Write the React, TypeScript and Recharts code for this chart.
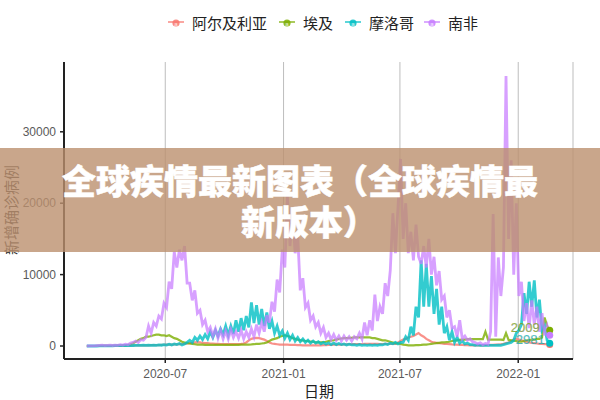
import { LineChart, Line, XAxis, YAxis, CartesianGrid } from "recharts";

const FONT_CJK = '"Noto Sans CJK SC", sans-serif';
const FONT_LATIN = '"Liberation Sans", Arial, sans-serif';

const seriesNames = ["阿尔及利亚", "埃及", "摩洛哥", "南非"];
const seriesColors = ["#F8766D", "#7CAE00", "#00BFC4", "#C77CFF"];

const xTicks = [0, 184, 365, 549];
const xTickLabels = ["2020-07", "2021-01", "2021-07", "2022-01"];
const yTicks = [0, 10000, 20000, 30000];

// one reading every 4 days, from 2020-03-01
const algeria = [
  0, 0, 0, 0, 5, 5, 10, 10, 20, 20,
  30, 30, 40, 40, 50, 50, 60, 60, 70, 70,
  80, 80, 90, 100, 100, 110, 120, 120, 130, 150,
  160, 180, 200, 200, 220, 240, 250, 280, 300, 350,
  400, 450, 500, 550, 500, 450, 400, 400, 350, 350,
  300, 300, 280, 280, 250, 250, 250, 250, 280, 280,
  300, 350, 500, 800, 1000, 1100, 1150, 1100, 1000, 900,
  700, 500, 350, 300, 250, 200, 200, 180, 180, 150,
  150, 150, 120, 120, 100, 100, 100, 100, 100, 100,
  100, 100, 120, 120, 150, 150, 180, 180, 200, 200,
  220, 220, 250, 250, 250, 280, 280, 280, 300, 300,
  300, 300, 300, 300, 280, 280, 300, 300, 280, 280,
  300, 500, 700, 900, 1000, 1200, 1300, 1400, 1600, 1800,
  1500, 1300, 1000, 800, 600, 500, 450, 400, 350, 300,
  280, 250, 220, 200, 180, 150, 150, 120, 120, 100,
  100, 100, 100, 100, 100, 120, 120, 150, 150, 200,
  200, 250, 300, 400, 500, 700, 900, 1000, 900, 800,
  700, 600, 500, 450, 400, 350, 300, 300, 250, 250,
  200,
];
const egypt = [
  0, 0, 0, 0, 0, 5, 10, 10, 20, 30,
  30, 40, 50, 60, 80, 100, 150, 250, 400, 600,
  800, 1000, 1100, 1300, 1300, 1400, 1500, 1600, 1600, 1500,
  1500, 1400, 1500, 1300, 1100, 1000, 800, 600, 500, 400,
  350, 300, 250, 200, 200, 180, 150, 150, 150, 150,
  150, 150, 150, 150, 150, 150, 150, 150, 150, 150,
  180, 180, 200, 200, 220, 250, 300, 300, 350, 400,
  500, 700, 900, 1000, 1100, 1300, 1400, 1500, 1400, 1300,
  1100, 1000, 900, 800, 800, 700, 700, 600, 600, 500,
  500, 500, 550, 600, 700, 750, 800, 900, 1000, 1050,
  1100, 1100, 1150, 1150, 1200, 1200, 1200, 1250, 1200, 1200,
  1200, 1100, 1100, 1000, 900, 800, 800, 700, 600, 500,
  400, 350, 300, 200, 150, 100, 100, 100, 120, 130,
  150, 180, 200, 250, 300, 350, 400, 450, 500, 500,
  550, 600, 700, 750, 800, 850, 900, 900, 950, 950,
  950, 950, 950, 950, 950, 2000, 900, 900, 900, 900,
  900, 900, 850, 1800, 850, 800, 700, 700, 600, 600,
  700, 800, 800, 900, 900, 1000, 1000, 1200, 4000, 2800,
  2200,
];
const morocco = [
  0, 0, 0, 0, 0, 5, 10, 10, 20, 30,
  30, 50, 60, 40, 60, 70, 80, 60, 70, 90,
  100, 80, 110, 90, 120, 100, 130, 90, 150, 110,
  200, 120, 250, 150, 300, 200, 350, 150, 300, 500,
  800, 500, 1200, 800, 1400, 900, 1600, 1000, 2000, 1200,
  2200, 1400, 2400, 1600, 2800, 1500, 2800, 1700, 3600, 2000,
  3900, 2200, 4200, 2600, 6100, 3200, 5700, 3000, 5200, 2800,
  4700, 2400, 3500, 1800, 2800, 1500, 2100, 1100, 1800, 900,
  1500, 700, 1200, 600, 1000, 500, 800, 400, 700, 400,
  600, 300, 500, 250, 450, 200, 400, 200, 350, 200,
  300, 150, 250, 150, 200, 100, 200, 100, 150, 100,
  150, 100, 150, 100, 200, 150, 300, 200, 400, 300,
  500, 300, 500, 500, 1300, 800, 2700, 1500, 5500, 4000,
  12000, 5500, 11500, 5500, 9800, 4500, 8000, 3000, 5500, 1800,
  2700, 800, 2000, 500, 1200, 400, 700, 300, 400, 200,
  200, 100, 150, 100, 100, 80, 100, 80, 100, 80,
  120, 100, 200, 300, 400, 500, 800, 1800, 2200, 3000,
  7400, 4500, 9000, 5500, 9200, 4000, 6500, 2200, 2800, 800,
  400,
];
const southAfrica = [
  0, 5, 10, 20, 60, 90, 110, 60, 90, 120,
  70, 130, 90, 180, 130, 250, 180, 400, 500, 700,
  500, 900, 800, 1200, 2800, 1800, 3300, 2800, 4200, 3800,
  6000, 5400, 9000, 8000, 13200, 11000, 13500, 12000, 14000, 8800,
  8800, 6400, 7800, 4600, 5000, 3000, 3600, 2000, 2600, 1400,
  2400, 1100, 2200, 1000, 2100, 1000, 2300, 1200, 2000, 1100,
  2200, 1000, 2000, 1200, 2400, 1300, 3000, 1800, 3300, 2000,
  4300, 3300, 6200, 4800, 9300, 7500, 13500, 11000, 21000, 14000,
  18500, 13000, 15500, 7800, 9500, 5400, 6000, 3600, 4200, 2700,
  3300, 1800, 2600, 1200, 1800, 900, 1600, 800, 1400, 700,
  1400, 800, 1300, 700, 1300, 1000, 1800, 1000, 3300, 1500,
  3600, 2200, 7200, 3500, 5500, 4500, 8800, 7000, 10600, 18600,
  13000, 19500, 26200, 15000, 20000, 13000, 16000, 12000, 17000, 12500,
  11500, 14000, 11000, 15000, 10000, 12500, 8500, 10500, 6500, 7000,
  4000, 5000, 2500, 2700, 1300, 3600, 1000, 1400, 800, 1000,
  600, 500, 300, 450, 200, 350, 250, 2000, 18500, 1300,
  12400, 7000, 11000, 37800, 15000, 26000, 10000, 20000, 7000, 9000,
  3500, 6000, 2500, 6400, 3000, 5500, 2000, 4600, 1500, 2800,
  1500,
];

const chartData = southAfrica.map((_, i) => ({
  day: -122 + i * 4,
  algeria: algeria[i],
  egypt: egypt[i],
  morocco: morocco[i],
  southAfrica: southAfrica[i],
}));

const lastIndex = chartData.length - 1;

const endDot = (color: string, label?: string, labelDx = 0, labelDy = 0) => (props: any) => {
  if (props.index !== lastIndex) return <g key={props.index} />;
  return (
    <g key={props.index}>
      {label && (
        <text
          x={props.cx + labelDx}
          y={props.cy + labelDy}
          textAnchor="end"
          fontSize={13}
          fontFamily={FONT_LATIN}
          fill={color}
          fillOpacity={0.75}
          stroke="#777"
          strokeWidth={0.2}
        >
          {label}
        </text>
      )}
      <circle cx={props.cx} cy={props.cy} r={3.5} fill={color} />
    </g>
  );
};

const legendIconStyle = { width: 16, height: 12, marginRight: 8, display: "block" };

function ChartLegend() {
  const gaps = [12, 12, 10, 0];
  return (
    <div
      style={{
        position: "absolute",
        top: 12,
        left: 168,
        display: "flex",
        alignItems: "center",
        fontFamily: FONT_CJK,
        fontSize: 15,
        lineHeight: "22px",
        color: "#222",
        whiteSpace: "nowrap",
      }}
    >
      {seriesNames.map((name, i) => (
        <div key={name} style={{ display: "flex", alignItems: "center", marginRight: gaps[i] }}>
          <svg style={legendIconStyle} viewBox="0 0 16 12">
            <line x1={0} y1={5} x2={16} y2={5} stroke={seriesColors[i]} strokeWidth={1.6} strokeOpacity={0.8} />
            <circle cx={8} cy={6} r={3.6} fill={seriesColors[i]} fillOpacity={0.85} />
            <text x={8} y={9} textAnchor="middle" fontSize={6} fontFamily={FONT_LATIN} fill="#fff" fillOpacity={0.8}>
              a
            </text>
          </svg>
          {name}
        </div>
      ))}
    </div>
  );
}

export default function App() {
  return (
    <div style={{ position: "absolute", left: 0, top: 0, width: 600, height: 400, background: "#fff", overflow: "hidden" }}>
      <LineChart width={600} height={400} data={chartData} margin={{ top: 62, right: 27, bottom: 0, left: 0 }}>
        <CartesianGrid horizontal={false} stroke="#bdbdbd" strokeWidth={1} />
        <XAxis
          dataKey="day"
          type="number"
          domain={[-157.5, 634.2]}
          ticks={xTicks}
          tickFormatter={(v: number) => xTickLabels[xTicks.indexOf(v)]}
          height={41}
          allowDataOverflow
          axisLine={{ stroke: "#222", strokeWidth: 2 }}
          tickLine={{ stroke: "#222", strokeWidth: 1.5 }}
          tickSize={4}
          tickMargin={6}
          tick={{ fill: "#5a5a5a", fontSize: 12, fontFamily: FONT_LATIN }}
        />
        <YAxis
          type="number"
          domain={[-1820, 39776]}
          ticks={yTicks}
          width={64}
          allowDataOverflow
          axisLine={{ stroke: "#222", strokeWidth: 2 }}
          tickLine={{ stroke: "#222", strokeWidth: 1.5 }}
          tickSize={4}
          tickMargin={4}
          tick={{ fill: "#5a5a5a", fontSize: 12, fontFamily: FONT_LATIN }}
        />
        <Line dataKey="algeria" name={seriesNames[0]} stroke={seriesColors[0]} strokeWidth={2.2} strokeOpacity={0.8} dot={endDot(seriesColors[0])} isAnimationActive={false} />
        <Line dataKey="egypt" name={seriesNames[1]} stroke={seriesColors[1]} strokeWidth={2.2} strokeOpacity={0.8} dot={endDot(seriesColors[1], "2009", -10, 2)} isAnimationActive={false} />
        <Line dataKey="morocco" name={seriesNames[2]} stroke={seriesColors[2]} strokeWidth={2.8} strokeOpacity={0.8} dot={endDot(seriesColors[2], "2981", -5, 1)} isAnimationActive={false} />
        <Line dataKey="southAfrica" name={seriesNames[3]} stroke={seriesColors[3]} strokeWidth={2.8} strokeOpacity={0.72} dot={endDot(seriesColors[3])} isAnimationActive={false} />
      </LineChart>

      <ChartLegend />

      <div style={{ position: "absolute", left: 219, top: 382, width: 200, textAlign: "center", fontFamily: FONT_CJK, fontSize: 15, lineHeight: "18px", color: "#222" }}>
        日期
      </div>
      <div
        style={{
          position: "absolute",
          left: 11,
          top: 210,
          transform: "translate(-50%, -50%) rotate(-90deg)",
          fontFamily: FONT_CJK,
          fontSize: 15,
          lineHeight: "18px",
          color: "#333",
          whiteSpace: "nowrap",
        }}
      >
        新增确诊病例
      </div>

      <div
        style={{
          position: "absolute",
          left: 0,
          top: 148,
          width: 600,
          height: 104,
          background: "rgba(188,144,110,0.8)",
          textAlign: "center",
          color: "#fff",
          fontFamily: FONT_CJK,
          fontWeight: 900,
          fontSize: 34,
          lineHeight: "41px",
          paddingTop: 11,
          boxSizing: "border-box",
          whiteSpace: "nowrap",
          WebkitTextStroke: "0.5px #fff",
        }}
      >
        全球疾情最新图表（全球疾情最
        <br />
        <span style={{ marginLeft: 18 }}>新版本）</span>
      </div>
    </div>
  );
}
